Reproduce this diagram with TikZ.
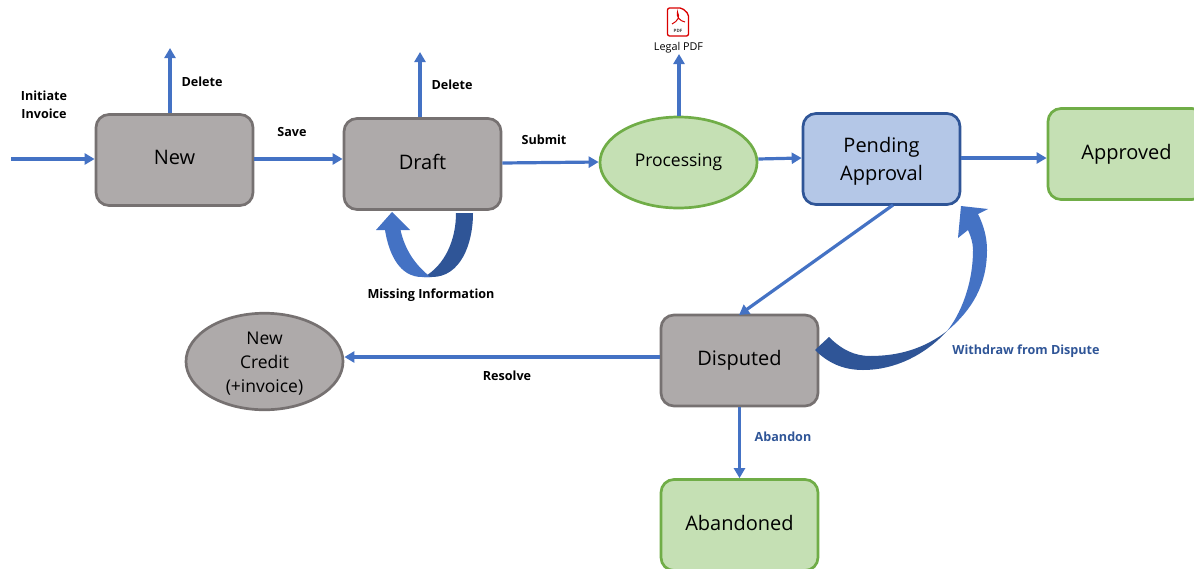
\documentclass[tikz,border=0pt]{standalone}
\usepackage{fontspec}
\setmainfont{Open Sans}
\usetikzlibrary{shapes.geometric,arrows.meta}
\definecolor{connblue}{HTML}{4472C4}
\definecolor{darkb}{HTML}{2F5597}
\definecolor{greyf}{HTML}{AEAAAA}
\definecolor{greyd}{HTML}{767171}
\definecolor{greenf}{HTML}{C5E0B4}
\definecolor{greend}{HTML}{70AD47}
\definecolor{bluef}{HTML}{B4C7E7}
\newcommand{\lvl}{\vphantom{Apg}}
\tikzset{
 x=1pt,y=-1pt,
 boxbase/.style={rounded corners=13pt,line width=2.7pt,minimum width=157pt,minimum height=91pt,inner sep=0pt,align=center,font=\fontsize{20}{28}\selectfont},
 greybox/.style={boxbase,draw=greyd,fill=greyf},
 greenbox/.style={boxbase,draw=greend,fill=greenf},
 bluebox/.style={boxbase,draw=darkb,fill=bluef},
 ellbase/.style={ellipse,line width=2.7pt,minimum width=157pt,minimum height=91pt,inner sep=0pt,align=center},
 connline/.style={draw=connblue,line width=3.2pt,-{Triangle[length=10pt,width=11pt]}},
 lab/.style={font=\fontsize{12.6}{18}\selectfont\bfseries,align=center,inner sep=0pt},
 lablue/.style={lab,text=darkb},
}
\begin{document}
\begin{tikzpicture}
\useasboundingbox (0,0) rectangle (1194,568);
\clip (0,0) rectangle (1194,568);
% nodes
\node[greybox] (new) at (174.5,160) {\lvl New};
\node[greybox] (draft) at (422.5,164) {\lvl Draft};
\node[ellbase,draw=greend,fill=greenf,font=\fontsize{17.5}{22}\selectfont] (proc) at (678.5,162.5) {\raisebox{-2.5pt}{Processing}};
\node[bluebox] (pend) at (881.5,159) {\rule{0pt}{19pt}Pending\\Approval};
\node[greenbox] (appr) at (1126.5,154) {\lvl Approved};
\node[greybox] (disp) at (739.5,360.5) {\lvl Disputed};
\node[greenbox] (aband) at (739.5,525) {\lvl Abandoned};
\node[ellbase,draw=greyd,fill=greyf,font=\fontsize{17.5}{24}\selectfont] (cred) at (264.5,361.5) {\rule{0pt}{17.5pt}New\\Credit\\(+invoice)};
% free ends
\coordinate (start) at (11,159);
\coordinate (delA) at (170,48);
\coordinate (delB) at (420,52);
\coordinate (pdfEnd) at (679,54);
% connectors
\draw[connline] (start) -- (new.west |- start);
\draw[connline] (new.east |- 0,159) -- (draft.west |- 0,159);
\draw[connline] (draft.east |- 0,163) -- (proc.west |- 0,162);
\draw[connline] (proc.east |- 0,159) -- (pend.west |- 0,158);
\draw[connline] (pend.east |- 0,158) -- (appr.west |- 0,158);
\draw[connline] (delA |- new.north) -- (delA);
\draw[connline] (delB |- draft.north) -- (delB);
\draw[connline] (pdfEnd |- proc.north) -- (pdfEnd);
\draw[connline] (893,205) -- (739,315);
\draw[connline] (disp.west |- 0,357) -- (cred.east |- 0,357);
\draw[connline] (disp.south) -- (aband.north);
% curved arrow under Draft
\fill[darkb] (456,213) -- (473,213) .. controls (473,245) and (460,277) .. (432,277) -- (424,277) .. controls (445,265) and (456,240) .. (456,213) -- cycle;
\fill[connblue] (392,212) -- (410,230) -- (400.5,230) .. controls (405,250) and (415,264) .. (428,275) -- (430,277) -- (422,277) .. controls (400,277) and (389,255) .. (385,230) -- (376,230) -- cycle;
% curved arrow Disputed to Pending
\fill[darkb] (815,350) -- (829,337) .. controls (842,350) and (855,356) .. (870,356) .. controls (900,356) and (925,348) .. (947,331) .. controls (925,355) and (895,370) .. (863,370) .. controls (842,370) and (827,362) .. (815,350) -- cycle;
\fill[connblue] (961,206) -- (988,209) -- (978,214) .. controls (984,226) and (987,238) .. (987,250) .. controls (987,285) and (972,310) .. (947,331) .. controls (960,315) and (973,285) .. (973,250) .. controls (973,243) and (971,237) .. (968,230) -- (958,238) -- cycle;
% pdf icon
\fill[white,draw=red!85!black,line width=1.3pt,rounded corners=2pt] (667.5,8) -- (682,8) -- (688.5,14) -- (688.5,36) -- (667.5,36) -- cycle;
\draw[red!85!black,line width=1pt] (672,24) .. controls (678,21) and (680,17) .. (677.5,12) .. controls (676,17) and (680,21) .. (685,22);
\node[inner sep=0pt,font=\fontsize{4.5}{5}\selectfont\bfseries,text=black!75] (pdftxt) at (678,31) {PDF};
% labels
\node[inner sep=0pt,font=\fontsize{10.8}{13}\selectfont] (legal) at (678.5,48) {Legal PDF};
\node[lab] (l1) at (44,104.5) {Initiate\\Invoice};
\node[lab] (l2) at (202,81.5) {Delete};
\node[lab] (l3) at (292,131.5) {Save};
\node[lab] (l4) at (452,84.5) {Delete};
\node[lab] (l5) at (544,139.5) {Submit};
\node[lab] (l6) at (431,295) {Missing Information};
\node[lab] (l7) at (507,375.5) {Resolve};
\node[lablue] (l8) at (1026,351.5) {Withdraw from Dispute};
\node[lablue] (l9) at (783,437) {Abandon};
\end{tikzpicture}
\end{document}
